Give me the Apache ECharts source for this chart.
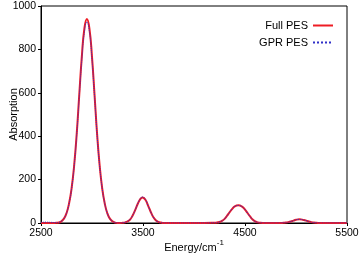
<!DOCTYPE html>
<html>
<head>
<meta charset="utf-8">
<title>Absorption spectrum</title>
<script src="https://cdn.jsdelivr.net/npm/echarts@6/dist/echarts.min.js"></script>
<style>
body{margin:0;background:#fff;}
#chart{width:359px;height:253px;}
</style>
</head>
<body>
<div id="chart"></div>
<script>

// energies in cm-1
const energy=[2500,2550,2600,2650,2675,2700,2725,2750,2775,2800,2825,2850,2875,2900,2925,2950,2975,3000,3025,3050,3075,3100,3125,3150,3175,3200,3225,3250,3275,3300,3325,3350,3375,3400,3425,3450,3475,3495,3525,3550,3575,3600,3625,3650,3675,3700,3800,3900,4000,4100,4200,4225,4250,4275,4300,4325,4350,4375,4400,4435,4475,4500,4525,4550,4575,4600,4625,4650,4700,4800,4850,4875,4900,4925,4950,4975,5000,5035,5075,5100,5125,5150,5175,5200,5250,5350,5500]

const fullPES=[0,0,0,1,2,8,20,45,90,160,265,410,590,765,895,940,895,765,590,410,265,160,90,45,20,8,2,0,0,1,3,8,17,36,62,90,111,118,106,80,52,28,13,5,2,0,0,0,0,0,1,2,5,10,19,34,50,65,77,82,74,62,46,30,16,7,3,1,0,0,0,1,2,4,7,11,15,17,14,11,7,4,2,1,0,0,0]

const gprPES=[3,4,3,2,3,8,20,45,89,158,262,405,582,752,880,926,882,755,584,406,263,159,90,45,20,8,2,0,0,1,3,8,17,36,62,91,113,120,107,80,52,28,13,5,2,0,0,0,0,0,1,2,5,10,19,34,50,65,77,81,74,62,46,30,16,7,3,1,0,0,0,1,2,4,7,11,15,17,14,11,7,4,2,1,0,0,0]

const xTicks=[2500,3500,4500,5500]
const yTicks=[0,200,400,600,800,1000]

const font="Liberation Sans"

const chart=echarts.init(document.getElementById("chart"))

chart.setOption({

animation:false,

grid:{
left:41,right:12,top:6,bottom:30,
outerBoundsMode:"none",
containLabel:false,
show:true,borderColor:"#000",borderWidth:1
},

legend:{
data:["Full PES","GPR PES"],
orient:"vertical",
right:20,top:15,
align:"right",
itemWidth:20,itemHeight:10,itemGap:6,
itemStyle:{opacity:0},
textStyle:{fontFamily:font,fontSize:11,color:"#000"}
},

xAxis:{
type:"value",
min:xTicks[0],max:xTicks[xTicks.length-1],interval:1000,
name:"{a|Energy/cm}{sup|-1}",
nameLocation:"middle",
nameGap:16,
nameMoveOverlap:false,
nameTextStyle:{
fontFamily:font,color:"#000",
rich:{
a:{fontFamily:font,fontSize:11,lineHeight:14,verticalAlign:"bottom",color:"#000"},
sup:{fontFamily:font,fontSize:8,lineHeight:8,verticalAlign:"top",color:"#000"}
}
},
axisLine:{lineStyle:{color:"#000",width:1}},
axisTick:{inside:false,length:3,lineStyle:{color:"#000"}},
axisLabel:{fontFamily:font,fontSize:10.5,color:"#000",margin:5,formatter:v=>String(v)},
splitLine:{show:false}
},

yAxis:{
type:"value",
min:yTicks[0],max:yTicks[yTicks.length-1],interval:200,
name:"Absorption",
nameLocation:"middle",
nameGap:22,
nameMoveOverlap:false,
nameTextStyle:{fontFamily:font,fontSize:11,color:"#000"},
axisLine:{show:true,lineStyle:{color:"#000",width:1}},
axisTick:{show:true,inside:false,length:3,lineStyle:{color:"#000"}},
axisLabel:{fontFamily:font,fontSize:10.5,color:"#000",margin:5,formatter:v=>String(v)},
splitLine:{show:false}
},

series:[
{
name:"Full PES",
type:"line",
smooth:true,
symbol:"none",
data:energy.map((e,i)=>[e,fullPES[i]]),
lineStyle:{color:"#ee1c24",width:2},
itemStyle:{color:"#ee1c24"}
},
{
name:"GPR PES",
type:"line",
smooth:true,
symbol:"none",
data:energy.map((e,i)=>[e,gprPES[i]]),
lineStyle:{color:"#3030c8",width:1,type:"dotted"},
itemStyle:{color:"#3030c8"}
}
]

})

</script>
</body>
</html>
